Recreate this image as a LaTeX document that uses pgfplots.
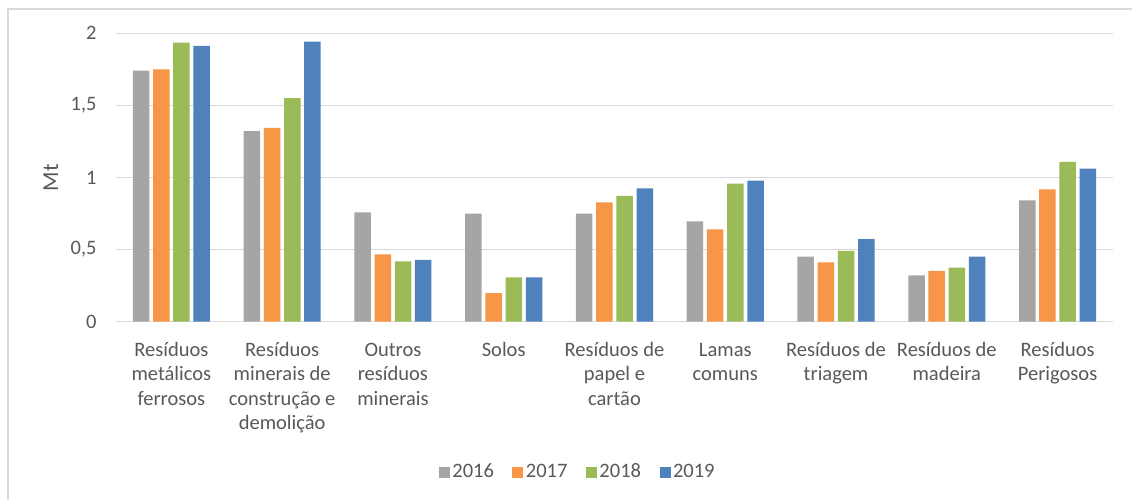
\documentclass[border=0pt]{standalone}
\usepackage{pgfplots}
\pgfplotsset{compat=1.18}
\usepackage{fontspec}
\setmainfont{Carlito}
\definecolor{c16}{HTML}{A5A5A5}
\definecolor{c17}{HTML}{F79646}
\definecolor{c18}{HTML}{9BBB59}
\definecolor{c19}{HTML}{4F81BD}
\definecolor{gridc}{HTML}{D9D9D9}
\definecolor{textc}{HTML}{595959}
\newcommand{\tkfont}{\fontsize{10.25}{12.2}\selectfont}
\newcommand{\R}{\rule{0pt}{8.5pt}}
\begin{document}
\begin{tikzpicture}
\useasboundingbox (0,0) rectangle (566pt,-249.5pt);
\fill[white] (0,0) rectangle (566pt,-249.5pt);
\draw[color=gridc, line width=0.75pt] (4pt,-260pt) -- (4pt,-4.5pt) -- (580pt,-4.5pt);
\begin{axis}[
  at={(58pt,-16.65pt)}, anchor=north west,
  width=498.5pt, height=144.2pt, scale only axis,
  xmin=-0.5, xmax=8.5, ymin=0, ymax=2,
  clip=false,
  ybar, bar width=8.25pt,
  axis line style={draw=none},
  ymajorgrids, grid style={color=gridc, line width=0.6pt},
  major tick length=0pt,
  ytick={0,0.5,1,1.5,2},
  yticklabels={0,{0,5},1,{1,5},2},
  yticklabel style={anchor=east, inner sep=0pt, xshift=-9.5pt, font=\tkfont, text=textc},
  xtick={0,1,2,3,4,5,6,7,8},
  xticklabels={
    {\R Resíduos\\metálicos\\ferrosos},
    {\R Resíduos\\minerais de\\construção e\\demolição},
    {\R Outros\\resíduos\\minerais},
    {\R Solos},
    {\R Resíduos de\\papel e\\cartão},
    {\R Lamas\\comuns},
    {\R Resíduos de\\triagem},
    {\R Resíduos de\\madeira},
    {\R Resíduos\\Perigosos}},
  xticklabel style={align=center, anchor=north, inner sep=0pt, yshift=-8.65pt, font=\tkfont, text=textc},
  ylabel={Mt},
  every axis y label/.style={at={(-0.0652,0.5)}, rotate=90, anchor=center, font=\fontsize{11.4}{13}\selectfont, text=textc},
  legend columns=4,
  legend style={draw=none, fill=none, at={(0.4634,-0.5227)}, anchor=center,
    font=\tkfont, text=textc, nodes={inner sep=1.25pt},
    /tikz/every even column/.append style={column sep=8pt}},
  legend image code/.code={\fill[#1] (0pt,-2.7pt) rectangle (5.5pt,2.8pt);},
]
\addplot[fill=c16, draw=none, bar shift=-15.15pt] coordinates
  {(0,1.741) (1,1.322) (2,0.759) (3,0.749) (4,0.749) (5,0.696) (6,0.451) (7,0.322) (8,0.842)};
\addplot[fill=c17, draw=none, bar shift=-5.05pt] coordinates
  {(0,1.750) (1,1.345) (2,0.467) (3,0.199) (4,0.828) (5,0.641) (6,0.412) (7,0.352) (8,0.918)};
\addplot[fill=c18, draw=none, bar shift=5.05pt] coordinates
  {(0,1.935) (1,1.551) (2,0.419) (3,0.308) (4,0.872) (5,0.957) (6,0.492) (7,0.375) (8,1.108)};
\addplot[fill=c19, draw=none, bar shift=15.15pt] coordinates
  {(0,1.912) (1,1.942) (2,0.428) (3,0.308) (4,0.925) (5,0.978) (6,0.573) (7,0.451) (8,1.061)};
\legend{2016,2017,2018,2019}
\end{axis}
\end{tikzpicture}
\end{document}
